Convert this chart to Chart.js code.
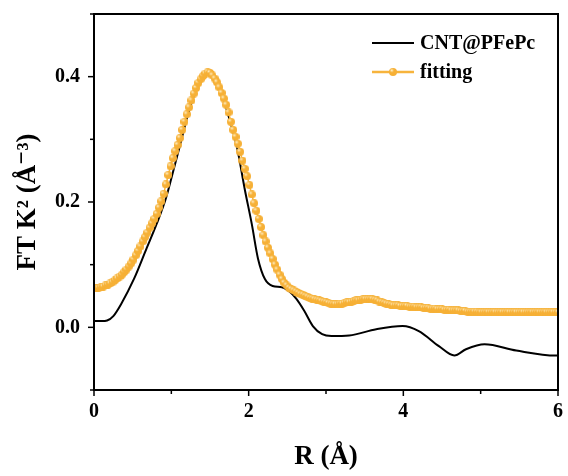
<!DOCTYPE html>
<html>
<head>
<meta charset="utf-8">
<script src="https://cdn.jsdelivr.net/npm/chart.js@4.4.0/dist/chart.umd.min.js"></script>
<style>
  html, body { margin: 0; padding: 0; background: #fff; }
  canvas { display: block; }
</style>
</head>
<body>
<canvas id="grafico" width="568" height="476"></canvas>
<script>
// Curva medida (CNT@PFePc): R em Å e amplitude
const rMedido = [0, 0.1, 0.17, 0.25, 0.35, 0.52, 0.68, 0.81, 0.93, 1.03, 1.12, 1.2, 1.3, 1.4, 1.47,
  1.55, 1.65, 1.75, 1.85, 1.95, 2.04, 2.12, 2.21, 2.31, 2.43, 2.52, 2.62, 2.72, 2.83, 2.95,
  3.07, 3.3, 3.65, 3.99, 4.2, 4.46, 4.66, 4.81, 5.05, 5.46, 5.97, 6.0];
const valoresMedido = [0.010, 0.010, 0.011, 0.018, 0.037, 0.078, 0.126, 0.165, 0.206, 0.252, 0.294, 0.333, 0.372, 0.398, 0.406,
  0.399, 0.372, 0.333, 0.287, 0.220, 0.165, 0.110, 0.077, 0.066, 0.064, 0.058, 0.045, 0.026, 0.002, -0.011,
  -0.014, -0.013, -0.003, 0.002, -0.006, -0.030, -0.045, -0.035, -0.027, -0.037, -0.045, -0.045];

// Ajuste (fitting): um valor a cada 0.03 Å, de 0 a 6
const passoAjuste = 0.03;
const valoresAjuste = [
  0.062, 0.062, 0.063, 0.064, 0.065, 0.067, 0.068, 0.070, 0.072, 0.075,
  0.078, 0.081, 0.084, 0.088, 0.092, 0.097, 0.102, 0.108, 0.115, 0.122,
  0.129, 0.137, 0.144, 0.151, 0.159, 0.166, 0.173, 0.181, 0.191, 0.201,
  0.213, 0.228, 0.243, 0.257, 0.270, 0.281, 0.291, 0.302, 0.315, 0.328,
  0.340, 0.351, 0.362, 0.373, 0.382, 0.390, 0.396, 0.401, 0.405, 0.407,
  0.406, 0.402, 0.397, 0.391, 0.383, 0.374, 0.365, 0.355, 0.343, 0.328,
  0.315, 0.304, 0.293, 0.280, 0.266, 0.253, 0.241, 0.227, 0.212, 0.198,
  0.186, 0.173, 0.160, 0.147, 0.137, 0.127, 0.118, 0.109, 0.100, 0.092,
  0.084, 0.077, 0.071, 0.067, 0.063, 0.061, 0.059, 0.057, 0.055, 0.053,
  0.052, 0.050, 0.049, 0.047, 0.046, 0.045, 0.044, 0.043, 0.042, 0.041,
  0.040, 0.039, 0.038, 0.037, 0.037, 0.037, 0.038, 0.038, 0.039, 0.040,
  0.040, 0.041, 0.042, 0.043, 0.043, 0.044, 0.045, 0.045, 0.045, 0.045,
  0.045, 0.044, 0.043, 0.041, 0.040, 0.039, 0.038, 0.037, 0.036, 0.035,
  0.035, 0.035, 0.034, 0.034, 0.034, 0.034, 0.033, 0.033, 0.033, 0.032,
  0.032, 0.032, 0.031, 0.031, 0.031, 0.030, 0.030, 0.030, 0.029, 0.029,
  0.029, 0.028, 0.028, 0.028, 0.027, 0.027, 0.027, 0.027, 0.026, 0.026,
  0.026, 0.025, 0.025, 0.025, 0.025, 0.025, 0.024, 0.024, 0.024, 0.024,
  0.024, 0.024, 0.024, 0.024, 0.024, 0.024, 0.024, 0.024, 0.024, 0.024,
  0.024, 0.024, 0.024, 0.024, 0.024, 0.024, 0.024, 0.024, 0.024, 0.024,
  0.024, 0.024, 0.024, 0.024, 0.024, 0.024, 0.024, 0.024, 0.024, 0.024,
  0.024
];

const nomesSeries = ['CNT@PFePc', 'fitting'];
const rotulosX = [0, 2, 4, 6];        // ticks com texto no eixo R
const rotulosY = [0.0, 0.2, 0.4];     // ticks com texto no eixo FT

const FONTE = "'Liberation Serif', 'DejaVu Serif', serif";
const LARANJA = '#F7B43C';

// Marcador redondo com brilho no canto, parecido com o do Origin
function criarMarcador(tam) {
  const c = document.createElement('canvas');
  c.width = tam; c.height = tam;
  const g = c.getContext('2d');
  const r = tam / 2;
  g.fillStyle = '#F6B036';
  g.beginPath();
  g.arc(r, r, r, 0, Math.PI * 2);
  g.fill();
  const brilho = g.createRadialGradient(r * 0.7, r * 0.6, 0, r * 0.7, r * 0.6, r * 0.6);
  brilho.addColorStop(0, 'rgba(255,248,225,0.95)');
  brilho.addColorStop(1, 'rgba(255,220,140,0)');
  g.fillStyle = brilho;
  g.beginPath();
  g.arc(r, r, r, 0, Math.PI * 2);
  g.fill();
  return c;
}
const marcador = criarMarcador(8);

const pontosMedido = rMedido.map((r, i) => ({ x: r, y: valoresMedido[i] }));
const pontosAjuste = valoresAjuste.map((v, i) => ({ x: +(i * passoAjuste).toFixed(2), y: v }));

// Moldura, ticks maiores/menores e legenda
const molduraPlugin = {
  id: 'moldura',
  afterDraw(chart) {
    const { ctx, chartArea: a, scales } = chart;
    ctx.save();
    ctx.strokeStyle = '#000';
    ctx.lineWidth = 2;
    ctx.strokeRect(a.left, a.top, a.right - a.left, a.bottom - a.top);

    ctx.lineWidth = 1.5;
    scales.x.ticks.forEach(t => {
      const px = scales.x.getPixelForValue(t.value);
      const len = rotulosX.includes(t.value) ? 6 : 4;
      ctx.beginPath();
      ctx.moveTo(px, a.bottom);
      ctx.lineTo(px, a.bottom + len);
      ctx.stroke();
    });
    scales.y.ticks.forEach(t => {
      const py = scales.y.getPixelForValue(t.value);
      const maior = rotulosY.some(v => Math.abs(v - t.value) < 1e-6);
      ctx.beginPath();
      ctx.moveTo(a.left, py);
      ctx.lineTo(a.left - (maior ? 6 : 4), py);
      ctx.stroke();
    });

    // legenda
    const lx0 = 372, lx1 = 414, tx = 420;
    const ly = [43, 72];
    ctx.font = 'bold 20px ' + FONTE;
    ctx.textBaseline = 'middle';
    ctx.fillStyle = '#000';

    ctx.strokeStyle = '#000';
    ctx.lineWidth = 2;
    ctx.beginPath();
    ctx.moveTo(lx0, ly[0]); ctx.lineTo(lx1, ly[0]);
    ctx.stroke();
    ctx.fillText(nomesSeries[0], tx, ly[0] + 1);

    ctx.strokeStyle = LARANJA;
    ctx.lineWidth = 2.5;
    ctx.beginPath();
    ctx.moveTo(lx0, ly[1]); ctx.lineTo(lx1, ly[1]);
    ctx.stroke();
    ctx.drawImage(marcador, (lx0 + lx1) / 2 - 4, ly[1] - 4);
    ctx.fillStyle = '#000';
    ctx.fillText(nomesSeries[1], tx, ly[1] + 1);
    ctx.restore();
  }
};

function rotuloY(v) {
  if (!rotulosY.some(r => Math.abs(r - v) < 1e-6)) return '';
  return Math.abs(v) < 1e-9 ? '0.0' : v.toFixed(1);
}

const ctx = document.getElementById('grafico').getContext('2d');
const grafico = new Chart(ctx, {
  type: 'line',
  data: {
    datasets: [
      {
        label: nomesSeries[0],
        data: pontosMedido,
        borderColor: '#000',
        borderWidth: 2,
        pointRadius: 0,
        cubicInterpolationMode: 'monotone',
        fill: false,
        order: 1
      },
      {
        label: nomesSeries[1],
        data: pontosAjuste,
        borderColor: LARANJA,
        borderWidth: 1.5,
        pointStyle: marcador,
        pointRadius: 4,
        tension: 0,
        fill: false,
        order: 0
      }
    ]
  },
  options: {
    responsive: false,
    animation: false,
    devicePixelRatio: 1,
    layout: { padding: { top: 14, right: 10, left: 0, bottom: 0 } },
    plugins: {
      legend: { display: false },
      tooltip: { enabled: false }
    },
    scales: {
      x: {
        type: 'linear',
        min: 0,
        max: 6,
        afterFit(s) {
          s.height = 86;
          s.paddingLeft = 0;
          s.paddingRight = 0;
        },
        grid: { display: false, drawTicks: false },
        border: { display: false },
        ticks: {
          stepSize: 1,
          padding: 10,
          color: '#000',
          font: { family: FONTE, size: 20, weight: 'bold' },
          maxRotation: 0,
          callback: v => rotulosX.includes(v) ? String(v) : ''
        },
        title: {
          display: true,
          text: 'R (Å)',
          color: '#000',
          font: { family: FONTE, size: 27, weight: 'bold' },
          padding: { top: 0, bottom: 3 }
        }
      },
      y: {
        type: 'linear',
        min: -0.1,
        max: 0.5,
        afterFit(s) {
          s.width = 94;
          s.paddingTop = 0;
          s.paddingBottom = 0;
        },
        grid: { display: false, drawTicks: false },
        border: { display: false },
        ticks: {
          stepSize: 0.1,
          padding: 14,
          color: '#000',
          font: { family: FONTE, size: 20, weight: 'bold' },
          callback: rotuloY
        },
        title: {
          display: true,
          text: 'FT K² (Å⁻³)',
          color: '#000',
          font: { family: FONTE, size: 27, weight: 'bold' },
          padding: { top: 12, bottom: 0 }
        }
      }
    }
  },
  plugins: [molduraPlugin]
});
</script>
</body>
</html>
